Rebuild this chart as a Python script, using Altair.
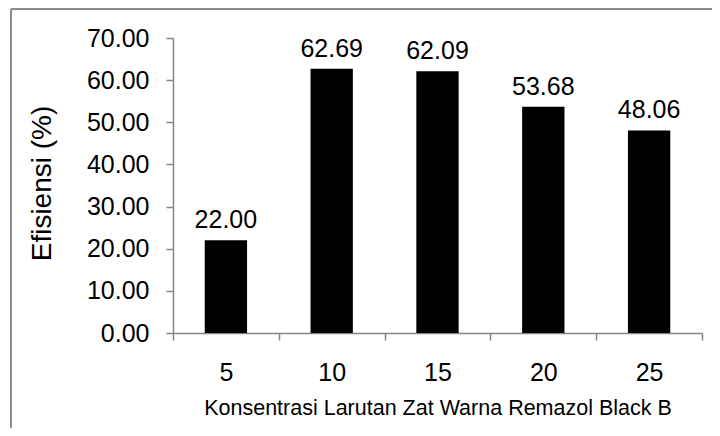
import altair as alt
import pandas as pd

categories = ["5", "10", "15", "20", "25"]
values = [22.00, 62.69, 62.09, 53.68, 48.06]
y_ticks = [0, 10, 20, 30, 40, 50, 60, 70]

df = pd.DataFrame({"kons": categories, "eff": values})

FONT = "Liberation Sans"
AX = "#868686"
W, H = 529, 295

x_enc = alt.X(
    "kons:N",
    sort=categories,
    scale=alt.Scale(paddingInner=0, paddingOuter=0),
    axis=alt.Axis(
        title="Konsentrasi Larutan Zat Warna Remazol Black B",
        titleFontSize=21.5,
        titleFont=FONT,
        titleFontWeight="normal",
        titleColor="#000000",
        titlePadding=12,
        labelAngle=0,
        labelFontSize=25,
        labelFont=FONT,
        labelColor="#000000",
        labelPadding=20,
        tickBand="extent",
        tickSize=7,
        tickColor=AX,
        domainColor=AX,
        tickWidth=1.5,
        domainWidth=1.5,
    ),
)

y_enc = alt.Y(
    "eff:Q",
    scale=alt.Scale(domain=[0, 70], nice=False, zero=True),
    axis=alt.Axis(
        title="Efisiensi (%)",
        titleFontSize=28,
        titleFont=FONT,
        titleFontWeight="normal",
        titleColor="#000000",
        titleX=-123,
        titleY=145,
        titleAngle=-90,
        titleAlign="center",
        titleBaseline="alphabetic",
        values=y_ticks,
        format=".2f",
        labelFontSize=25,
        labelFont=FONT,
        labelColor="#000000",
        labelPadding=17,
        tickSize=7,
        tickColor=AX,
        domainColor=AX,
        tickWidth=1.5,
        domainWidth=1.5,
        grid=False,
    ),
)

bars = alt.Chart(df).mark_bar(color="#000000", width=alt.RelativeBandSize(0.4)).encode(
    x=x_enc, y=y_enc
)

labels = alt.Chart(df).mark_text(
    font=FONT, fontSize=25, color="#000000", baseline="bottom", dy=-7
).encode(
    x=alt.X("kons:N", sort=categories),
    y="eff:Q",
    text=alt.Text("eff:Q", format=".2f"),
)

border_top = alt.Chart(df).mark_rule(color="#8c8c8c", strokeWidth=1.5).encode(
    x=alt.value(-162), x2=alt.value(W + 40), y=alt.value(-29)
)
border_left = alt.Chart(df).mark_rule(color="#8c8c8c", strokeWidth=1.5).encode(
    x=alt.value(-162), y=alt.value(-29), y2=alt.value(H + 120)
)

chart = (
    alt.layer(border_top, border_left, bars, labels)
    .properties(
        width=W,
        height=H,
        autosize=alt.AutoSizeParams(type="none"),
        padding={"left": 165, "top": 30, "right": 10, "bottom": 95},
        background="#ffffff",
    )
    .configure_view(stroke=None)
)

chart.save("out.html", embed_options={"renderer": "svg", "actions": False})
